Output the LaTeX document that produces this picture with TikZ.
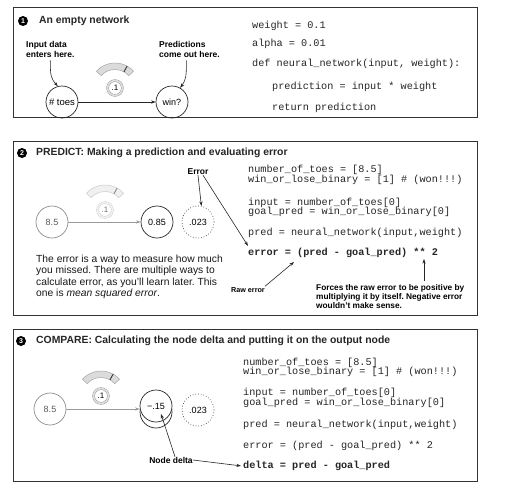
\documentclass[tikz,border=0pt]{standalone}
\usepackage{fontspec}
\setmainfont{Liberation Sans}
\setsansfont{Liberation Sans}
\setmonofont{Liberation Mono}
\usetikzlibrary{arrows.meta,calc}
\frenchspacing
\newcommand\mygauge[4]{%
  \begin{scope}[shift={(#1.center)}, x=1pt, y=1pt]
  \filldraw[fill=#2, draw=#3, line width=0.5pt]
    (138:25) arc[start angle=138, end angle=42, radius=25]
    -- (42:18.5) arc[start angle=42, end angle=138, radius=18.5] -- cycle;
  \draw[#4, line width=0.9pt] (61:18.5) -- (61:25);
  \end{scope}
}
\begin{document}
\begin{tikzpicture}[x=1pt,y=-1pt,
  frame/.style={draw=black!80, line width=0.8pt},
  bullet/.style={circle, fill=black, text=white, inner sep=0pt, minimum size=10pt, font=\fontsize{7}{7}\selectfont\bfseries},
  title/.style={anchor=west, inner sep=0pt, font=\fontsize{10.4}{12}\selectfont\bfseries, text=black!85},
  code/.style={anchor=base west, inner sep=0pt, font=\fontsize{10.2}{12}\ttfamily, text=black!85},
  bcode/.style={code, font=\fontsize{10.2}{12}\ttfamily\bfseries},
  neuron/.style={circle, draw=black!85, line width=0.7pt, minimum size=32pt, inner sep=0pt, font=\fontsize{9}{10}\selectfont},
  gneuron/.style={neuron, draw=black!45, text=black!65},
  wring/.style={circle, draw=black!45, double=black!12, double distance=1.6pt, line width=0.4pt, fill=white, minimum size=14.8pt, inner sep=0pt, font=\fontsize{8}{9}\selectfont},
  fwring/.style={wring, draw=black!22, double=black!5, text=black!55},
  lbl/.style={anchor=base west, inner sep=0pt, font=\fontsize{8.5}{9}\selectfont\bfseries},
  flbl/.style={anchor=base west, inner sep=0pt, font=\fontsize{8.3}{9}\selectfont\bfseries},
  lblc/.style={inner sep=0pt, font=\fontsize{8.5}{9}\selectfont\bfseries},
  para/.style={anchor=base west, inner sep=0pt, font=\fontsize{10.3}{11}\selectfont, text=black!90},
  arr/.style={-{Stealth[length=4.6pt,width=3.2pt]}, line width=0.6pt, black!85},
  garr/.style={arr, black!40}
]
\fill[white] (0,0) rectangle (508,490);
\useasboundingbox (0,0) rectangle (508,490);

% frames
\draw[frame] (13,7) rectangle (477,117);
\draw[frame] (13,141) rectangle (477,315);
\draw[frame] (13,329) rectangle (477,481);

% ---------- Panel 1
\node[bullet] (b1) at (23,21) {1};
\node[title] (t1) at (39,21) {An empty network};
\node[neuron, font=\fontsize{9.5}{10}\selectfont] (toes) at (62,102) {\# toes};
\node[neuron] (win) at (172,102) {win?};
\draw[arr] (toes) -- (win);
\node[wring] (w1) at (115,88) {.1};
\mygauge{w1}{black!14}{black!35}{black!80}
\node[lbl] (in1) at (26,47) {Input data};
\node[lbl] (in2) at (26,57) {enters here.};
\node[lbl] (pr1) at (159,47) {Predictions};
\node[lbl] (pr2) at (159,57) {come out here.};
\draw[arr] ([yshift=-3pt]in2.south) .. controls +(0,15) and +(-7,-8) .. (toes.105);
\draw[arr] ([xshift=-3pt,yshift=-3pt]pr2.south) .. controls +(0,15) and +(6,-8) .. (win.60);
\node[code] (c1a) at (252,28.5) {weight = 0.1};
\node[code] (c1b) at (252,46.5) {alpha = 0.01};
\node[code] (c1c) at (252,66.5) {def neural\_network(input, weight):};
\node[code] (c1d) at (272,89.5) {prediction = input * weight};
\node[code] (c1e) at (272,110.5) {return prediction};

% ---------- Panel 2
\node[bullet] (b2) at (22,153) {2};
\node[title] (t2) at (36,153) {PREDICT: Making a prediction and evaluating error};
\node[gneuron] (i2) at (52,222) {8.5};
\node[neuron] (o2) at (157,222) {0.85};
\node[neuron, dotted, draw=black!75] (e2) at (198,222) {.023};
\draw[garr] (i2) -- (o2);
\node[fwring] (w2) at (105,210) {.1};
\mygauge{w2}{black!6}{black!20}{black!45}
\node[lblc] (err) at (198,172) {Error};
\node[code] (c2a) at (248,172.5) {number\_of\_toes = [8.5]};
\node[code] (c2b) at (248,182.5) {win\_or\_lose\_binary = [1] \# (won!!!)};
\node[code] (c2c) at (248,205.5) {input = number\_of\_toes[0]};
\node[code] (c2d) at (248,214.5) {goal\_pred = win\_or\_lose\_binary[0]};
\node[code] (c2e) at (248,235.5) {pred = neural\_network(input,weight)};
\node[bcode] (c2f) at (248,255.5) {error = (pred - goal\_pred) ** 2};
\draw[arr] (err.south) -- (e2.78);
\draw[arr] ([xshift=5pt]err.south) -- ([yshift=2pt]c2f.north west);
\node[para] (p1) at (36,262.5) {The error is a way to measure how much};
\node[para] (p2) at (36,273.5) {you missed. There are multiple ways to};
\node[para] (p3) at (36,285) {calculate error, as you'll learn later. This};
\node[para] (p4) at (36,296.5) {one is \textit{mean squared error}.};
\node[lblc, font=\fontsize{7.2}{8}\selectfont\bfseries] (raw) at (248,290) {Raw error};
\coordinate (rawtip) at (294,262);
\draw[arr] ([yshift=1pt]raw.north east) -- (rawtip);
\node[flbl] (f1) at (316,290) {Forces the raw error to be positive by};
\node[flbl] (f2) at (316,299) {multiplying it by itself. Negative error};
\node[flbl] (f3) at (316,308) {wouldn't make sense.};
\coordinate (startip) at (424,259);
\path (f1.north -| startip) coordinate (fbase);
\draw[arr] ([yshift=3pt]fbase) -- (startip);

% ---------- Panel 3
\node[bullet] (b3) at (21,341) {3};
\node[title] (t3) at (36,341) {COMPARE: Calculating the node delta and putting it on the output node};
\node[gneuron] (i3) at (50,409) {8.5};
\node[neuron] (d3b) at (156,412) {};
\node[neuron, fill=white] (d3) at (156,406) {−.15};
\node[neuron, dotted, draw=black!75] (e3) at (198,410) {.023};
\draw[garr] (i3.east) -- (i3.east -| d3.west);
\node[wring] (w3) at (101,396) {.1};
\mygauge{w3}{black!14}{black!35}{black!80}
\node[code] (c3a) at (243,365) {number\_of\_toes = [8.5]};
\node[code] (c3b) at (243,374) {win\_or\_lose\_binary = [1] \# (won!!!)};
\node[code] (c3c) at (243,395) {input = number\_of\_toes[0]};
\node[code] (c3d) at (243,405) {goal\_pred = win\_or\_lose\_binary[0]};
\node[code] (c3e) at (243,427.5) {pred = neural\_network(input,weight)};
\node[code] (c3f) at (243,448.5) {error = (pred - goal\_pred) ** 2};
\node[bcode] (c3g) at (243,468.5) {delta = pred - goal\_pred};
\node[lblc] (nd) at (171,460) {Node delta};
\coordinate (dtip) at (161,414);
\draw[arr] ([xshift=4pt]nd.north) -- (dtip);
\draw[arr] (nd.east) -- ([xshift=-2pt]c3g.west);
\end{tikzpicture}
\end{document}
